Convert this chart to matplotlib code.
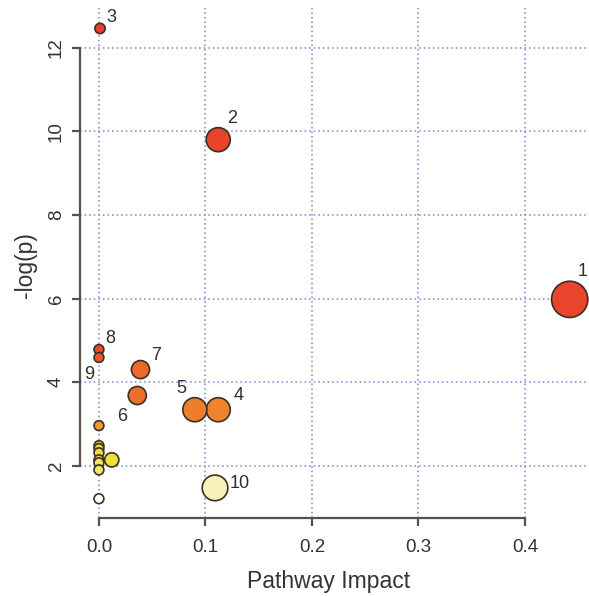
import matplotlib
matplotlib.use("Agg")
import matplotlib.pyplot as plt

plt.rcParams["font.family"] = ["Liberation Sans", "DejaVu Sans"]

# pathway impact (x), -log(p) (y), bubble size, fill colour, label
impact = [0.442, 0.112, 0.001, 0.112, 0.090, 0.036, 0.039, 0.000, 0.000, 0.109,
          0.000, 0.000, 0.000, 0.000, 0.000, 0.000, 0.000, 0.012, 0.000]
neglogp = [5.98, 9.80, 12.46, 3.34, 3.34, 3.68, 4.30, 4.78, 4.59, 1.47,
           2.96, 2.48, 2.41, 2.31, 2.14, 2.07, 1.90, 2.14, 1.21]
sizes = [680, 300, 55, 300, 300, 170, 170, 50, 50, 340,
         50, 50, 50, 50, 50, 50, 50, 105, 50]
fills = ["#E8452C", "#E8432B", "#E8412B", "#EF842E", "#EE7D2C", "#EC7029", "#EC6A2A",
         "#E64A2A", "#E8552A", "#F7F2BA",
         "#EE9A30", "#E8C83A", "#EDD53D", "#EEDC40", "#F0E050", "#F2E45C", "#F2E66A",
         "#F0E035", "#FFFFF5"]
labels = ["1", "2", "3", "4", "5", "6", "7", "8", "9", "10"]
label_offsets = [(9, 20), (10, 15), (8, 8), (15, 10), (-10, 15), (-11, -15),
                 (11, 10), (8, 8), (-7, -12), (18, 3)]

fig = plt.figure(figsize=(5.89, 5.96), dpi=100)
ax = fig.add_axes([0.1358, 0.1309, 0.873, 0.8557])

ax.scatter(impact, neglogp, s=sizes, c=fills, edgecolors="#3b3025",
           linewidths=1.2, zorder=3)

for i, lab in enumerate(labels):
    ax.annotate(lab, (impact[i], neglogp[i]), xytext=label_offsets[i],
                textcoords="offset points", ha="center", va="center",
                fontsize=13, color="#2e2e2e", zorder=4)

ax.set_xlim(-0.0178, 0.465)
ax.set_ylim(0.75, 12.95)
ax.set_xticks([0.0, 0.1, 0.2, 0.3, 0.4])
ax.set_xticklabels(["0.0", "0.1", "0.2", "0.3", "0.4"])
ax.set_yticks([2, 4, 6, 8, 10, 12])
ax.grid(True, linestyle=(0, (1, 2)), color="#7f7fd6", linewidth=1.1, zorder=0)

for side in ["top", "right"]:
    ax.spines[side].set_visible(False)
ax.spines["left"].set_bounds(2, 12)
ax.spines["bottom"].set_bounds(0, 0.4)
for side in ["left", "bottom"]:
    ax.spines[side].set_color("#5a5048")
    ax.spines[side].set_linewidth(1.6)

ax.tick_params(axis="both", direction="out", length=6, width=1.6,
               color="#5a5048", labelsize=13.5, labelcolor="#333333")
ax.tick_params(axis="x", pad=9)
ax.tick_params(axis="y", pad=5)
for t in ax.get_yticklabels():
    t.set_rotation(90)
    t.set_va("center")

ax.set_xlabel("Pathway Impact", fontsize=16.5, color="#333333")
ax.set_ylabel("-log(p)", fontsize=16.5, color="#333333")
ax.xaxis.set_label_coords((329 - 80) / (0.873 * 589), -(582 - 518) / (0.8557 * 596))
ax.yaxis.set_label_coords(-(80 - 26) / (0.873 * 589), (518 - 265) / (0.8557 * 596))
ax.xaxis.label.set_va("center")
ax.yaxis.label.set_va("center")

fig.savefig("out.png", dpi=100)
